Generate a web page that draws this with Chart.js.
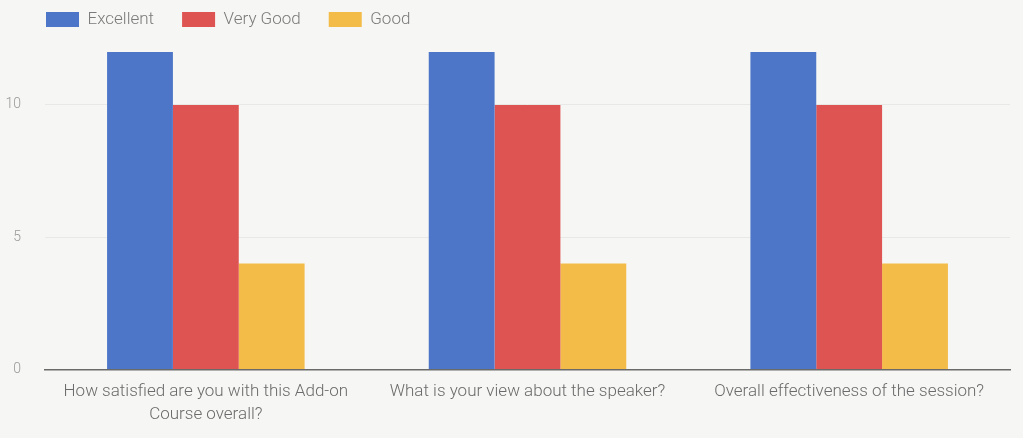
<!DOCTYPE html>
<html>
<head>
<meta charset="utf-8">
<script src="https://cdn.jsdelivr.net/npm/chart.js@4"></script>
<style>
  html, body { margin: 0; padding: 0; background: #f6f6f4; }
  #wrap { width: 1023px; height: 438px; }
</style>
</head>
<body>
<div id="wrap"><canvas id="grafico"></canvas></div>
<script>
// dados
const categorias = [
    ['How satisfied are you with this Add-on', 'Course overall?'],
    'What is your view about the speaker?',
    'Overall effectiveness of the session?'
];
const excelente = [12, 12, 12];
const muitoBom = [10, 10, 10];
const bom = [4, 4, 4];
const ticksY = [0, 5, 10];

// legenda: altura ajustada e deslocada para a direita / para cima
const ajusteLegenda = {
    id: 'ajusteLegenda',
    beforeInit(chart) {
        const leg = chart.legend;
        const fitOriginal = leg.fit;
        leg.fit = function () {
            fitOriginal.bind(leg)();
            this.height -= 3;
        };
        const drawOriginal = leg.draw;
        leg.draw = function () {
            const c = chart.ctx;
            c.save();
            c.translate(18, -17);
            drawOriginal.bind(leg)();
            c.restore();
        };
    }
};

const ctx = document.getElementById('grafico').getContext('2d');
const grafico = new Chart(ctx, {
    type: 'bar',
    data: {
        labels: categorias,
        datasets: [{
            label: 'Excellent',
            data: excelente,
            backgroundColor: '#4d76c8'
        }, {
            label: 'Very Good',
            data: muitoBom,
            backgroundColor: '#de5452'
        }, {
            label: 'Good',
            data: bom,
            backgroundColor: '#f3bb47'
        }]
    },
    plugins: [ajusteLegenda],
    options: {
        responsive: true,
        maintainAspectRatio: false,
        animation: false,
        layout: { padding: { left: 0, right: 13, top: 0, bottom: 1 } },
        datasets: {
            bar: { barPercentage: 1, categoryPercentage: 0.614 }
        },
        scales: {
            x: {
                grid: { display: false, drawTicks: false },
                border: { color: '#6a6a6a', width: 1.5 },
                ticks: {
                    color: '#6b6b6b',
                    font: { family: 'Roboto', size: 17, weight: 300, lineHeight: 1.4 },
                    maxRotation: 0,
                    padding: 10
                }
            },
            y: {
                min: 0,
                max: 12,
                afterBuildTicks: (scale) => {
                    scale.ticks = ticksY.map(v => ({ value: v }));
                },
                afterFit: (scale) => { scale.width = 45; },
                grid: { color: '#e8e8e6', drawTicks: false },
                border: { display: false },
                ticks: { color: '#999', font: { family: 'Roboto', size: 14, weight: 300 }, padding: 24 }
            }
        },
        plugins: {
            legend: {
                align: 'start',
                labels: {
                    boxWidth: 33,
                    boxHeight: 15,
                    color: '#7a7a7a',
                    font: { family: 'Roboto', size: 17, weight: 300 },
                    padding: 28
                }
            },
            tooltip: { enabled: false }
        }
    }
});
</script>
</body>
</html>
